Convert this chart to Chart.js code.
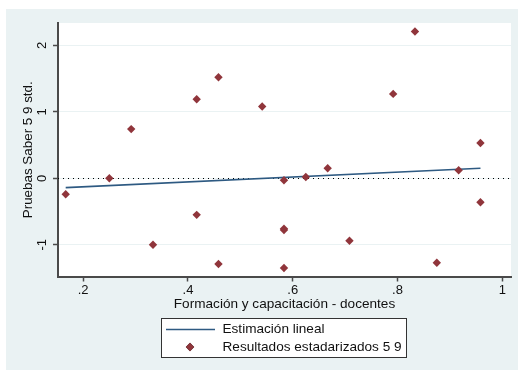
<!DOCTYPE html>
<html lang="es">
<head>
  <meta charset="UTF-8" />
  <title>Formación docente y Pruebas Saber</title>
  <script src="https://cdn.jsdelivr.net/npm/chart.js"></script>
  <style>
    html, body {
      margin: 0;
      padding: 0;
      background: #ffffff;
    }

    .chart-box {
      position: relative;
      width: 518px;
      height: 370px;
    }
  </style>
</head>
<body>
  <div class="chart-box">
    <canvas id="saberChart"></canvas>
  </div>

  <script>
    // Formación y capacitación (proporción) por establecimiento
    const formacion = [
      0.1667, 0.25, 0.2917, 0.3333, 0.4167, 0.4167, 0.4583, 0.4583,
      0.5417, 0.5833, 0.5833, 0.5833, 0.5833, 0.625, 0.6667, 0.7083,
      0.7917, 0.8333, 0.875, 0.9167, 0.9583, 0.9583
    ];
    // Resultados estandarizados Saber 5 y 9
    const saber = [
      -0.24, 0.0, 0.74, -1.0, 1.19, -0.55, 1.52, -1.29,
      1.08, -0.03, -0.76, -0.78, -1.35, 0.02, 0.15, -0.94,
      1.27, 2.21, -1.27, 0.12, 0.53, -0.36
    ];
    // Recta de la estimación lineal (extremos)
    const ajusteX = [0.1667, 0.9583];
    const ajusteY = [-0.14, 0.15];

    const xTicks = [0.2, 0.4, 0.6, 0.8, 1];
    const xTickLabels = ['.2', '.4', '.6', '.8', '1'];
    const yTicks = [-1, 0, 1, 2];
    const yTickLabels = ['-1', '0', '1', '2'];

    const fuente = "'Liberation Sans', Arial, sans-serif";
    const fondo = '#eaf2f3';
    const ejeColor = '#4a4a4a';

    // fondo gris azulado + área blanca del gráfico
    const fondoPlugin = {
      id: 'fondo',
      beforeDraw(chart) {
        const { ctx, chartArea: a } = chart;
        ctx.save();
        ctx.fillStyle = '#ffffff';
        ctx.fillRect(0, 0, chart.width, chart.height);
        ctx.fillStyle = fondo;
        ctx.fillRect(6, 9, chart.width - 6, chart.height - 9);
        ctx.fillStyle = '#ffffff';
        ctx.fillRect(a.left, a.top, a.right - a.left, a.bottom - a.top);
        ctx.restore();
      }
    };

    // línea punteada en y = 0
    const ceroPlugin = {
      id: 'lineaCero',
      beforeDatasetsDraw(chart) {
        const { ctx, chartArea: a, scales } = chart;
        const y = Math.round(scales.y.getPixelForValue(0)) + 0.5;
        ctx.save();
        ctx.strokeStyle = '#000000';
        ctx.lineWidth = 1;
        ctx.setLineDash([1, 4]);
        ctx.beginPath();
        ctx.moveTo(a.left, y);
        ctx.lineTo(a.right, y);
        ctx.stroke();
        ctx.restore();
      }
    };

    // leyenda en recuadro, dos filas
    const leyendaPlugin = {
      id: 'leyendaCaja',
      afterDraw(chart) {
        const { ctx } = chart;
        const box = { x: 161, y: 318, w: 246, h: 40 };
        ctx.save();
        ctx.fillStyle = '#ffffff';
        ctx.fillRect(box.x, box.y, box.w, box.h);
        ctx.strokeStyle = '#333333';
        ctx.lineWidth = 1;
        ctx.strokeRect(box.x + 0.5, box.y + 0.5, box.w - 1, box.h - 1);

        ctx.font = '13.6px ' + fuente;
        ctx.fillStyle = '#111111';
        ctx.textBaseline = 'middle';
        ctx.textAlign = 'left';
        chart.data.datasets.forEach((ds, i) => {
          const cy = box.y + 11.5 + i * 17.5;
          if (ds.showLine) {
            ctx.strokeStyle = ds.borderColor;
            ctx.lineWidth = ds.borderWidth;
            ctx.beginPath();
            ctx.moveTo(166, cy);
            ctx.lineTo(215, cy);
            ctx.stroke();
          } else {
            Chart.helpers.drawPoint(ctx, {
              pointStyle: ds.pointStyle,
              radius: ds.pointRadius,
              borderWidth: 0
            }, 190, cy);
            ctx.fillStyle = ds.backgroundColor;
            ctx.fill();
            ctx.fillStyle = '#111111';
          }
          ctx.fillText(ds.label, 222.5, cy);
        });
        ctx.restore();
      }
    };

    new Chart(document.getElementById('saberChart'), {
      type: 'scatter',
      data: {
        datasets: [
          {
            label: 'Estimación lineal',
            data: ajusteX.map((x, i) => ({ x: x, y: ajusteY[i] })),
            showLine: true,
            borderColor: '#2e5a82',
            borderWidth: 1.6,
            pointRadius: 0,
            order: 1
          },
          {
            label: 'Resultados estadarizados 5 9',
            data: formacion.map((x, i) => ({ x: x, y: saber[i] })),
            showLine: false,
            pointStyle: 'rectRot',
            pointRadius: 4.2,
            backgroundColor: '#90353b',
            borderColor: '#90353b',
            borderWidth: 0,
            order: 0
          }
        ]
      },
      options: {
        responsive: true,
        maintainAspectRatio: false,
        animation: false,
        layout: { padding: { top: 23, right: 7, left: 0, bottom: 58 } },
        plugins: {
          legend: { display: false },
          tooltip: { enabled: false }
        },
        scales: {
          x: {
            type: 'linear',
            position: 'bottom',
            min: 0.152,
            max: 1.0166,
            afterBuildTicks(scale) {
              scale.ticks = xTicks.map(v => ({ value: v }));
            },
            afterFit(scale) {
              scale.height = 370 - 276.5 - 58;
            },
            grid: {
              drawOnChartArea: false,
              drawTicks: true,
              tickLength: 5,
              tickColor: ejeColor,
              tickWidth: 1.5
            },
            border: { color: ejeColor, width: 2 },
            ticks: {
              font: { family: fuente, size: 13 },
              color: '#111111',
              padding: 1,
              maxRotation: 0,
              callback: (v) => xTickLabels[xTicks.indexOf(v)]
            },
            title: {
              display: true,
              text: 'Formación y capacitación - docentes',
              font: { family: fuente, size: 13.6 },
              color: '#111111',
              padding: { top: 0, bottom: 0 }
            }
          },
          y: {
            type: 'linear',
            min: -1.478,
            max: 2.337,
            afterBuildTicks(scale) {
              scale.ticks = yTicks.map(v => ({ value: v }));
            },
            afterFit(scale) {
              scale.width = 58;
            },
            grid: {
              color: fondo,
              lineWidth: 1,
              drawTicks: true,
              tickLength: 5,
              tickColor: ejeColor,
              tickWidth: 1.5
            },
            border: { color: ejeColor, width: 2 },
            ticks: {
              font: { family: fuente, size: 13 },
              color: '#111111',
              padding: 5,
              minRotation: 90,
              maxRotation: 90,
              crossAlign: 'center',
              callback: (v) => yTickLabels[yTicks.indexOf(v)]
            },
            title: {
              display: true,
              text: 'Pruebas Saber 5 9 std.',
              font: { family: fuente, size: 13.4 },
              color: '#111111',
              padding: { top: 20, bottom: 0 }
            }
          }
        }
      },
      plugins: [fondoPlugin, ceroPlugin, leyendaPlugin]
    });
  </script>
</body>
</html>
